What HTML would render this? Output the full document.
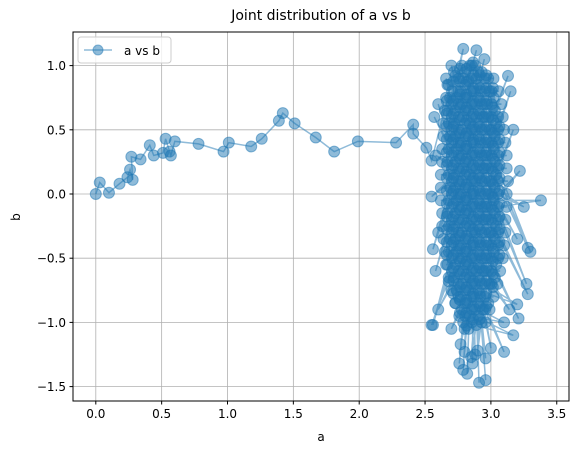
<!DOCTYPE html>
<html><head><meta charset="utf-8"><style>
body{margin:0;background:#fff}
svg{display:block;font-family:"DejaVu Sans","Liberation Sans",sans-serif}
</style></head><body>
<svg id="chart" width="577" height="453" viewBox="0 0 577 453">
<rect width="577" height="453" fill="#fff"/>
<text x="321" y="20" text-anchor="middle" font-size="14" fill="#000">Joint distribution of a vs b</text>
<g id="grid"></g>
<g id="marks"></g>
<rect x="73" y="32" width="496" height="369" fill="none" stroke="#000" stroke-width="1"/>
<g id="ticks"></g>
<text x="321" y="441" text-anchor="middle" font-size="12">a</text>
<text x="20" y="217" text-anchor="middle" font-size="12" transform="rotate(-90 20 217)">b</text>
<g>
<rect x="78" y="37" width="93" height="26" rx="3" fill="#fff" fill-opacity="0.8" stroke="#ccc"/>
<line x1="84" y1="50" x2="112" y2="50" stroke="#1f77b4" stroke-opacity="0.5" stroke-width="1.5"/>
<circle cx="98" cy="50" r="5" fill="#1f77b4" fill-opacity="0.5" stroke="#1f77b4" stroke-opacity="0.5"/>
<text x="124" y="55" font-size="12">a vs b</text>
</g>
</svg>
<script>
const xTicks=[0,0.5,1,1.5,2,2.5,3,3.5];
const xTickLabels=["0.0","0.5","1.0","1.5","2.0","2.5","3.0","3.5"];
const yTicks=[1,0.5,0,-0.5,-1,-1.5];
const yTickLabels=["1.0","0.5","0.0","−0.5","−1.0","−1.5"];
const aPath=[0,0.03,0.10,0.18,0.24,0.26,0.28,0.27,0.34,0.41,0.44,0.51,0.53,0.56,0.57,0.60,0.78,0.97,1.01,1.18,1.26,1.39,1.42,1.51,1.67,1.81,1.99,2.28,2.41,2.41,2.51,2.55];
const bPath=[0,0.09,0.01,0.08,0.13,0.19,0.11,0.29,0.27,0.38,0.30,0.32,0.43,0.33,0.30,0.41,0.39,0.33,0.40,0.37,0.43,0.57,0.63,0.55,0.44,0.33,0.41,0.40,0.54,0.47,0.36,0.26];
const aEdge=[2.72,3.02,2.67,3.06,2.66,3.08,2.65,3.09,2.64,3.10,2.64,3.11,2.63,3.12,2.63,3.12,2.62,3.13,2.62,3.12,2.62,3.12,2.63,3.11,2.63,3.11,2.64,3.10,2.65,3.09,2.66,3.07,2.68,3.05,2.70,3.02,2.73,2.99,2.76,2.96,2.80];
const bEdge=[0.95,0.90,0.85,0.80,0.75,0.70,0.65,0.60,0.55,0.50,0.45,0.40,0.35,0.30,0.25,0.20,0.15,0.10,0.05,0,-0.05,-0.10,-0.15,-0.20,-0.25,-0.30,-0.35,-0.40,-0.45,-0.50,-0.55,-0.60,-0.65,-0.70,-0.75,-0.80,-0.85,-0.90,-0.95,-1.00,-1.05];
const aCol=[2.68,2.69,2.67,2.68,2.69,2.68,2.67,2.68,2.69,2.68,2.67,2.68,2.69,2.68,2.67,2.68,
2.73,2.74,2.72,2.73,2.74,2.73,2.72,2.73,2.74,2.73,2.72,2.73,2.74,2.73,2.72,2.73,2.74,2.73,
2.78,2.79,2.77,2.78,2.79,2.78,2.77,2.78,2.79,2.78,2.77,2.78,2.79,2.78,2.77,2.78,2.79,2.78,2.77,2.78,2.79,
2.83,2.84,2.82,2.83,2.84,2.83,2.82,2.83,2.84,2.83,2.82,2.83,2.84,2.83,2.82,2.83,2.84,2.83,2.82,2.83,2.84,
2.88,2.89,2.87,2.88,2.89,2.88,2.87,2.88,2.89,2.88,2.87,2.88,2.89,2.88,2.87,2.88,2.89,2.88,2.87,2.88,2.89,
2.93,2.94,2.92,2.93,2.94,2.93,2.92,2.93,2.94,2.93,2.92,2.93,2.94,2.93,2.92,2.93,2.94,2.93,2.92,2.93,
2.98,2.99,2.97,2.98,2.99,2.98,2.97,2.98,2.99,2.98,2.97,2.98,2.99,2.98,2.97,2.98,2.99,2.98,
3.03,3.04,3.02,3.03,3.04,3.03,3.02,3.03,3.04,3.03,3.02,3.03,3.04,3.03,3.02];
const bCol=[0.85,0.75,0.65,0.55,0.45,0.35,0.25,0.15,0.05,-0.05,-0.15,-0.25,-0.35,-0.45,-0.55,-0.68,
-0.85,-0.75,-0.65,-0.55,-0.45,-0.35,-0.25,-0.15,-0.05,0.05,0.15,0.25,0.35,0.45,0.55,0.65,0.75,0.92,
1.0,0.9,0.8,0.7,0.6,0.5,0.4,0.3,0.2,0.1,0,-0.1,-0.2,-0.3,-0.4,-0.5,-0.6,-0.7,-0.8,-0.9,-1.0,
-1.05,-0.95,-0.85,-0.75,-0.65,-0.55,-0.45,-0.35,-0.25,-0.15,-0.05,0.05,0.15,0.25,0.35,0.45,0.55,0.65,0.75,0.88,1.0,
1.0,0.9,0.8,0.7,0.6,0.5,0.4,0.3,0.2,0.1,0,-0.1,-0.2,-0.3,-0.4,-0.5,-0.6,-0.7,-0.8,-0.9,-1.02,
-1.0,-0.9,-0.8,-0.7,-0.6,-0.5,-0.4,-0.3,-0.2,-0.1,0,0.1,0.2,0.3,0.4,0.5,0.6,0.7,0.8,0.95,
0.9,0.8,0.7,0.6,0.5,0.4,0.3,0.2,0.1,0,-0.1,-0.2,-0.3,-0.4,-0.5,-0.6,-0.7,-0.85,
-0.65,-0.55,-0.45,-0.35,-0.25,-0.15,-0.05,0.05,0.15,0.25,0.35,0.45,0.55,0.65,0.75];
const aCol2=[2.705,2.705,2.705,2.705,2.705,2.705,2.705,2.705,2.705,2.705,2.705,2.705,2.705,2.705,2.705,
2.755,2.755,2.755,2.755,2.755,2.755,2.755,2.755,2.755,2.755,2.755,2.755,2.755,2.755,2.755,2.755,2.755,2.755,
2.805,2.805,2.805,2.805,2.805,2.805,2.805,2.805,2.805,2.805,2.805,2.805,2.805,2.805,2.805,2.805,2.805,2.805,2.805,2.805,
2.855,2.855,2.855,2.855,2.855,2.855,2.855,2.855,2.855,2.855,2.855,2.855,2.855,2.855,2.855,2.855,2.855,2.855,2.855,2.855,2.855,
2.905,2.905,2.905,2.905,2.905,2.905,2.905,2.905,2.905,2.905,2.905,2.905,2.905,2.905,2.905,2.905,2.905,2.905,2.905,2.905,
2.955,2.955,2.955,2.955,2.955,2.955,2.955,2.955,2.955,2.955,2.955,2.955,2.955,2.955,2.955,2.955,2.955,2.955,2.955,
3.005,3.005,3.005,3.005,3.005,3.005,3.005,3.005,3.005,3.005,3.005,3.005,3.005,3.005,3.005,3.005,
3.055,3.055,3.055,3.055,3.055,3.055,3.055,3.055,3.055,3.055,3.055,3.055];
const bCol2=[0.8,0.7,0.6,0.5,0.4,0.3,0.2,0.1,0,-0.1,-0.2,-0.3,-0.4,-0.5,-0.6,
-0.8,-0.7,-0.6,-0.5,-0.4,-0.3,-0.2,-0.1,0,0.1,0.2,0.3,0.4,0.5,0.6,0.7,0.8,0.9,
0.95,0.85,0.75,0.65,0.55,0.45,0.35,0.25,0.15,0.05,-0.05,-0.15,-0.25,-0.35,-0.45,-0.55,-0.65,-0.75,-0.85,-0.95,
-1.0,-0.9,-0.8,-0.7,-0.6,-0.5,-0.4,-0.3,-0.2,-0.1,0,0.1,0.2,0.3,0.4,0.5,0.6,0.7,0.8,0.9,1.0,
0.95,0.85,0.75,0.65,0.55,0.45,0.35,0.25,0.15,0.05,-0.05,-0.15,-0.25,-0.35,-0.45,-0.55,-0.65,-0.75,-0.85,-0.95,
-0.9,-0.8,-0.7,-0.6,-0.5,-0.4,-0.3,-0.2,-0.1,0,0.1,0.2,0.3,0.4,0.5,0.6,0.7,0.8,0.9,
0.8,0.7,0.6,0.5,0.4,0.3,0.2,0.1,0,-0.1,-0.2,-0.3,-0.4,-0.5,-0.6,-0.7,
-0.5,-0.4,-0.3,-0.2,-0.1,0,0.1,0.2,0.3,0.4,0.5,0.6];
const aCol3=[2.665,2.665,2.665,2.665,2.665,2.665,2.665,2.665,2.665,2.665,2.665,2.665,2.665,
2.715,2.715,2.715,2.715,2.715,2.715,2.715,2.715,2.715,2.715,2.715,2.715,2.715,2.715,2.715,2.715,2.715,
2.765,2.765,2.765,2.765,2.765,2.765,2.765,2.765,2.765,2.765,2.765,2.765,2.765,2.765,2.765,2.765,2.765,2.765,2.765,2.765,
2.815,2.815,2.815,2.815,2.815,2.815,2.815,2.815,2.815,2.815,2.815,2.815,2.815,2.815,2.815,2.815,2.815,2.815,2.815,2.815,2.815,
2.865,2.865,2.865,2.865,2.865,2.865,2.865,2.865,2.865,2.865,2.865,2.865,2.865,2.865,2.865,2.865,2.865,2.865,2.865,2.865,2.865,
2.915,2.915,2.915,2.915,2.915,2.915,2.915,2.915,2.915,2.915,2.915,2.915,2.915,2.915,2.915,2.915,2.915,2.915,2.915,2.915,
2.965,2.965,2.965,2.965,2.965,2.965,2.965,2.965,2.965,2.965,2.965,2.965,2.965,2.965,2.965,2.965,2.965,2.965,2.965,
3.015,3.015,3.015,3.015,3.015,3.015,3.015,3.015,3.015,3.015,3.015,3.015,3.015,3.015,3.015,3.015,
3.065,3.065,3.065,3.065,3.065,3.065,3.065,3.065,3.065,3.065,3.065];
const bCol3=[0.725,0.625,0.525,0.425,0.325,0.225,0.125,0.025,-0.075,-0.175,-0.275,-0.375,-0.475,
-0.775,-0.675,-0.575,-0.475,-0.375,-0.275,-0.175,-0.075,0.025,0.125,0.225,0.325,0.425,0.525,0.625,0.725,0.875,
0.975,0.875,0.775,0.675,0.575,0.475,0.375,0.275,0.175,0.075,-0.025,-0.125,-0.225,-0.325,-0.425,-0.525,-0.625,-0.725,-0.825,-0.925,
-1.025,-0.925,-0.825,-0.725,-0.625,-0.525,-0.425,-0.325,-0.225,-0.125,-0.025,0.075,0.175,0.275,0.375,0.475,0.575,0.675,0.775,0.875,0.975,
1.025,0.925,0.825,0.725,0.625,0.525,0.425,0.325,0.225,0.125,0.025,-0.075,-0.175,-0.275,-0.375,-0.475,-0.575,-0.675,-0.775,-0.875,-0.975,
-0.975,-0.875,-0.775,-0.675,-0.575,-0.475,-0.375,-0.275,-0.175,-0.075,0.025,0.125,0.225,0.325,0.425,0.525,0.625,0.725,0.825,0.925,
0.925,0.825,0.725,0.625,0.525,0.425,0.325,0.225,0.125,0.025,-0.075,-0.175,-0.275,-0.375,-0.475,-0.575,-0.675,-0.775,-0.875,
-0.725,-0.625,-0.525,-0.425,-0.325,-0.225,-0.125,-0.025,0.075,0.175,0.275,0.375,0.475,0.575,0.675,0.825,
0.525,0.425,0.325,0.225,0.125,0.025,-0.075,-0.175,-0.275,-0.375,-0.475];
const aOut=[2.79,2.89,2.95,3.13,3.15,3.17,3.22,3.38,3.25,3.20,3.28,3.30,3.27,3.28,3.21,3.14,3.20,3.17,3.10,3.10,3.00,2.96,2.96,2.91,2.88,2.86,2.82,2.79,2.76,2.80,2.77,2.85,2.90,2.70,2.60,2.55,2.56,2.58,2.56,2.60,2.55,2.58,2.57,2.60,2.66,2.70];
const bOut=[1.13,1.12,1.05,0.92,0.80,0.50,0.18,-0.05,-0.10,-0.35,-0.42,-0.45,-0.70,-0.78,-0.97,-0.90,-0.86,-1.10,-1.00,-1.23,-1.20,-1.28,-1.45,-1.47,-1.25,-1.32,-1.40,-1.37,-1.32,-1.23,-1.17,-1.27,-1.22,-1.05,-0.90,-1.02,-1.02,-0.60,-0.43,-0.30,-0.02,0.30,0.60,0.70,0.90,1.00];
const xs=v=>95.8+v*131.7, ys=v=>194-v*128.4;
const NS="http://www.w3.org/2000/svg";
const grid=document.getElementById('grid'),ticks=document.getElementById('ticks'),marks=document.getElementById('marks');
function mk(t,attrs,parent){const e=document.createElementNS(NS,t);for(const k in attrs)e.setAttribute(k,attrs[k]);parent.appendChild(e);return e;}
xTicks.forEach((v,i)=>{const x=xs(v);
 const g=mk('line',{x1:x,x2:x,y1:32,y2:401,stroke:'#b0b0b0','stroke-width':0.8},grid);
 
 
 mk('line',{x1:x,x2:x,y1:401,y2:404.5,stroke:'#000'},ticks);
 const t=mk('text',{x:x,y:418,'text-anchor':'middle','font-size':12},ticks);t.textContent=xTickLabels[i];
 
 
});
yTicks.forEach((v,i)=>{const y=ys(v);
 const g=mk('line',{x1:73,x2:569,y1:y,y2:y,stroke:'#b0b0b0','stroke-width':0.8},grid);
 
 
 mk('line',{x1:69.5,x2:73,y1:y,y2:y,stroke:'#000'},ticks);
 const t=mk('text',{x:66,y:y+4.5,'text-anchor':'end','font-size':12},ticks);t.textContent=yTickLabels[i];
 
 
});
const A=[],B=[];
aPath.forEach((v,i)=>{A.push(v);B.push(bPath[i]);});
aEdge.forEach((v,i)=>{A.push(v);B.push(bEdge[i]);});
let oi=0;
aCol.forEach((v,i)=>{A.push(v);B.push(bCol[i]);if(i%3===2&&oi<aOut.length){A.push(aOut[oi]);B.push(bOut[oi]);oi++;}});
for(;oi<aOut.length;oi++){A.push(aOut[oi]);B.push(bOut[oi]);}
aCol2.forEach((v,i)=>{A.push(v);B.push(bCol2[i]);});
aCol3.forEach((v,i)=>{A.push(v);B.push(bCol3[i]);});
const pl=mk('polyline',{points:A.map((v,i)=>xs(v)+','+ys(B[i])).join(' '),fill:'none',stroke:'#1f77b4','stroke-opacity':0.5,'stroke-width':1.5},marks);


A.forEach((v,i)=>{
 const c=mk('circle',{cx:xs(v),cy:ys(B[i]),r:5.5,fill:'#1f77b4','fill-opacity':0.5,stroke:'#1f77b4','stroke-opacity':0.5,'stroke-width':1},marks);
 
 
});
</script>
</body></html>
